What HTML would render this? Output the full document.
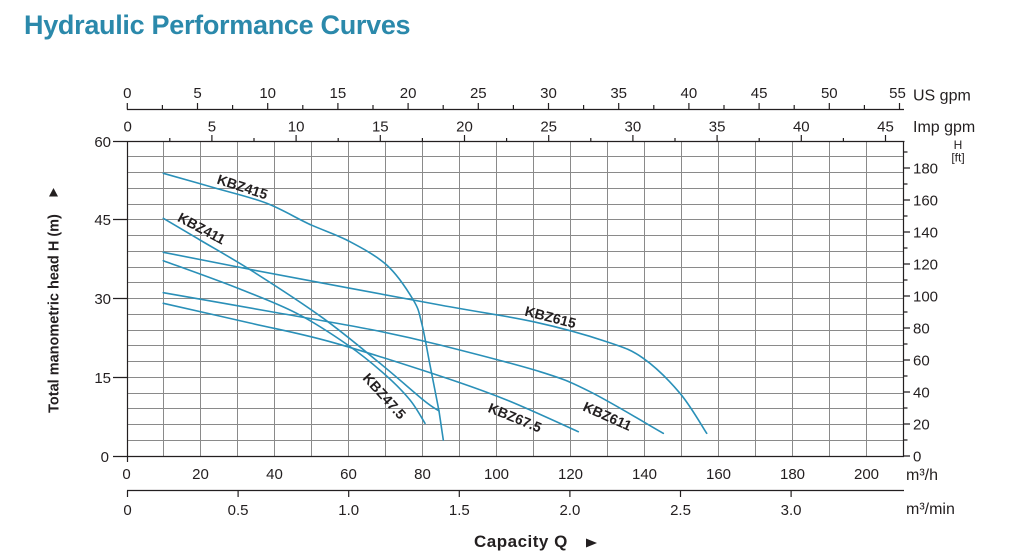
<!DOCTYPE html>
<html>
<head>
<meta charset="utf-8">
<style>
html,body{margin:0;padding:0;background:#fff;}
svg{display:block;}
text{font-family:"Liberation Sans",Arial,sans-serif;fill:#231f20;}
</style>
</head>
<body>
<svg width="1021" height="555" viewBox="0 0 1021 555" xmlns="http://www.w3.org/2000/svg">
<rect width="1021" height="555" fill="#fff"/>

<!-- Title -->
<text x="24" y="34" style="font-size:27px;font-weight:bold;fill:#2b89ab;letter-spacing:-0.3px">Hydraulic Performance Curves</text>

<!-- Grid -->
<g stroke="#8a8a8a" stroke-width="1" fill="none">
<path d="M163.5 141V456M200.5 141V456M237.5 141V456M274.5 141V456M311.5 141V456M348.5 141V456M385.5 141V456M422.5 141V456M459.5 141V456M496.5 141V456M533.5 141V456M570.5 141V456M607.5 141V456M644.5 141V456M681.5 141V456M718.5 141V456M755.5 141V456M792.5 141V456M829.5 141V456M866.5 141V456"/>
<path d="M127 156.5H904M127 172.5H904M127 188.5H904M127 204.5H904M127 219.5H904M127 235.5H904M127 251.5H904M127 267.5H904M127 282.5H904M127 298.5H904M127 314.5H904M127 330.5H904M127 345.5H904M127 361.5H904M127 377.5H904M127 393.5H904M127 408.5H904M127 424.5H904M127 440.5H904"/>
</g>

<!-- Axes frame -->
<g stroke="#231f20" stroke-width="1.2" fill="none">
<path d="M127.5 141V462"/>
<path d="M127 141.5H904.5"/>
<path d="M127 456.5H904"/>
<path d="M903.5 141V457"/>
<path d="M113 141.5H127M113 219.5H127M113 298.5H127M113 377.5H127M113 456.5H127"/>
<path d="M127 109.5H904"/>
<path d="M127.3 103V109.5M197.5 103V109.5M267.7 103V109.5M337.9 103V109.5M408.1 103V109.5M478.3 103V109.5M548.5 103V109.5M618.7 103V109.5M688.9 103V109.5M759.1 103V109.5M829.3 103V109.5M899.5 103V109.5"/>
<path d="M162.4 105V109.5M232.6 105V109.5M302.8 105V109.5M373 105V109.5M443.2 105V109.5M513.4 105V109.5M583.6 105V109.5M653.8 105V109.5M724 105V109.5M794.2 105V109.5M864.4 105V109.5"/>
<path d="M211.9 135V141.5M296.1 135V141.5M380.3 135V141.5M464.5 135V141.5M548.7 135V141.5M632.9 135V141.5M717.1 135V141.5M801.3 135V141.5M885.5 135V141.5"/>
<path d="M169.8 138V141.5M254 138V141.5M338.2 138V141.5M422.4 138V141.5M506.6 138V141.5M590.8 138V141.5M675 138V141.5M759.2 138V141.5M843.4 138V141.5"/>
<path d="M903.5 456H910M903.5 424H910M903.5 392H910M903.5 360H910M903.5 328H910M903.5 296H910M903.5 264H910M903.5 232H910M903.5 200H910M903.5 168H910"/>
<path d="M903.5 440H907.5M903.5 408H907.5M903.5 376H907.5M903.5 344H907.5M903.5 312H907.5M903.5 280H907.5M903.5 248H907.5M903.5 216H907.5M903.5 184H907.5M903.5 152H907.5"/>
<path d="M127 490.5H904"/>
<path d="M127.5 490.5V497M238.1 490.5V497M348.7 490.5V497M459.3 490.5V497M569.9 490.5V497M680.5 490.5V497M791.1 490.5V497"/>
</g>

<g style="font-size:15px" text-anchor="middle">
<text x="127.3" y="98">0</text><text x="197.5" y="98">5</text><text x="267.7" y="98">10</text><text x="337.9" y="98">15</text><text x="408.1" y="98">20</text><text x="478.3" y="98">25</text><text x="548.5" y="98">30</text><text x="618.7" y="98">35</text><text x="688.9" y="98">40</text><text x="759.1" y="98">45</text><text x="829.3" y="98">50</text><text x="897.5" y="98">55</text>
<text x="127.7" y="131.5">0</text><text x="211.9" y="131.5">5</text><text x="296.1" y="131.5">10</text><text x="380.3" y="131.5">15</text><text x="464.5" y="131.5">20</text><text x="548.7" y="131.5">25</text><text x="632.9" y="131.5">30</text><text x="717.1" y="131.5">35</text><text x="801.3" y="131.5">40</text><text x="885.5" y="131.5">45</text>
<text x="126.5" y="479">0</text><text x="200.5" y="479">20</text><text x="274.5" y="479">40</text><text x="348.5" y="479">60</text><text x="422.5" y="479">80</text><text x="496.5" y="479">100</text><text x="570.5" y="479">120</text><text x="644.5" y="479">140</text><text x="718.5" y="479">160</text><text x="792.5" y="479">180</text><text x="866.5" y="479">200</text>
<text x="127.5" y="515">0</text><text x="238.1" y="515">0.5</text><text x="348.7" y="515">1.0</text><text x="459.3" y="515">1.5</text><text x="569.9" y="515">2.0</text><text x="680.5" y="515">2.5</text><text x="791.1" y="515">3.0</text>
</g>

<g style="font-size:15px" text-anchor="end">
<text x="111" y="147">60</text><text x="111" y="225">45</text><text x="111" y="304">30</text><text x="111" y="383">15</text><text x="109" y="462">0</text>
</g>
<g style="font-size:15px">
<text x="913" y="461.5">0</text><text x="913" y="429.5">20</text><text x="913" y="397.5">40</text><text x="913" y="365.5">60</text><text x="913" y="333.5">80</text><text x="913" y="301.5">100</text><text x="913" y="269.5">120</text><text x="913" y="237.5">140</text><text x="913" y="205.5">160</text><text x="913" y="173.5">180</text>
</g>
<text x="958" y="149" text-anchor="middle" style="font-size:12px">H</text>
<text x="958" y="161.5" text-anchor="middle" style="font-size:12px">[ft]</text>

<g style="font-size:16px">
<text x="913" y="100.5">US gpm</text>
<text x="913" y="132">Imp gpm</text>
<text x="906" y="480">m³/h</text>
<text x="906" y="514">m³/min</text>
</g>

<text transform="translate(58.5,313.5) rotate(-90)" text-anchor="middle" style="font-size:14.5px;font-weight:bold">Total manometric head H (m)</text>
<polygon points="49,196.5 58,196.5 53.5,188" fill="#231f20"/>
<text x="474" y="547" style="font-size:17px;font-weight:bold;letter-spacing:0.5px">Capacity Q</text>
<polygon points="586,538.5 597,543 586,547.5" fill="#231f20"/>

<g stroke="#2a90b8" stroke-width="1.6" fill="none" stroke-linejoin="round" stroke-linecap="round">
<path d="M163.3 173.3C171.9 175.75 197.8 183 215 188C232.2 193 250.6 197.05 266.7 203.3C282.8 209.55 298.4 219.4 311.7 225.2C325 231 334.2 233.8 346.7 240C359.2 246.6 375.6 255 386.7 265C397.8 275 407.5 290.3 413.3 300C419.1 309.7 418.9 312.5 421.7 323.3C424.5 334.1 427.1 350.4 430 365C432.9 379.6 436 395.7 439 411L443.3 440"/>
<path d="M163.3 218.3C169.4 221.9 185 231.1 200 240C215 248.9 232.7 258.65 253.3 271.7C273.9 284.75 302.2 303 323.3 318.3C344.4 333.6 363.3 349.7 380 363.3C396.7 376.9 413.5 392 423.3 400C433.1 408 436.4 409.2 439 411"/>
<path d="M163.3 260.7C175.6 265.25 215.1 279.2 237.3 288C259.5 296.8 278.2 303.7 296.7 313.3C315.2 322.9 333.7 335.2 348.5 345.5C363.3 355.8 375.25 365.9 385.5 375C395.75 384.1 403.4 391.95 410 400C416.6 408.05 422.5 419.4 425 423.3"/>
<path d="M163.3 252.3C178.3 255.25 207.2 261.2 253.3 270C299.4 278.8 393.3 296.4 440 305C486.7 313.6 505.5 315.6 533.3 321.7C561.1 327.8 588.4 335.6 606.7 341.7C625 347.8 631.1 349.7 643.3 358.3C655.5 366.9 669.4 380.8 680 393.3C690.6 405.8 702.25 426.6 706.7 433.3"/>
<path d="M163.3 292.7C181.1 295.8 235 305.3 270 311.5C305 317.7 345 324.4 373.3 330C401.6 335.6 412.2 338 440 345C467.8 352 515 363.9 540 371.7C565 379.5 569.4 381.4 590 391.7C610.6 402 651.1 426.4 663.3 433.3"/>
<path d="M163.3 303.3C177.75 306.6 222.2 316.6 250 323C277.8 329.4 298.3 332.9 330 341.7C361.7 350.5 410.55 366.3 440 376C469.45 385.7 483.65 390.7 506.7 400C529.75 409.3 566.4 426.4 578.3 431.7"/>
</g>

<g style="font-size:14px;font-weight:bold" text-anchor="middle">
<text transform="translate(242.5,186.7) rotate(18)" dy="5">KBZ415</text>
<text transform="translate(201.7,228.3) rotate(28)" dy="5">KBZ411</text>
<text transform="translate(384.5,396) rotate(48)" dy="5">KBZ47.5</text>
<text transform="translate(550.5,317) rotate(14.5)" dy="5">KBZ615</text>
<text transform="translate(607.5,416) rotate(24)" dy="5">KBZ611</text>
<text transform="translate(515,417.5) rotate(22)" dy="5">KBZ67.5</text>
</g>
</svg>
</body>
</html>
